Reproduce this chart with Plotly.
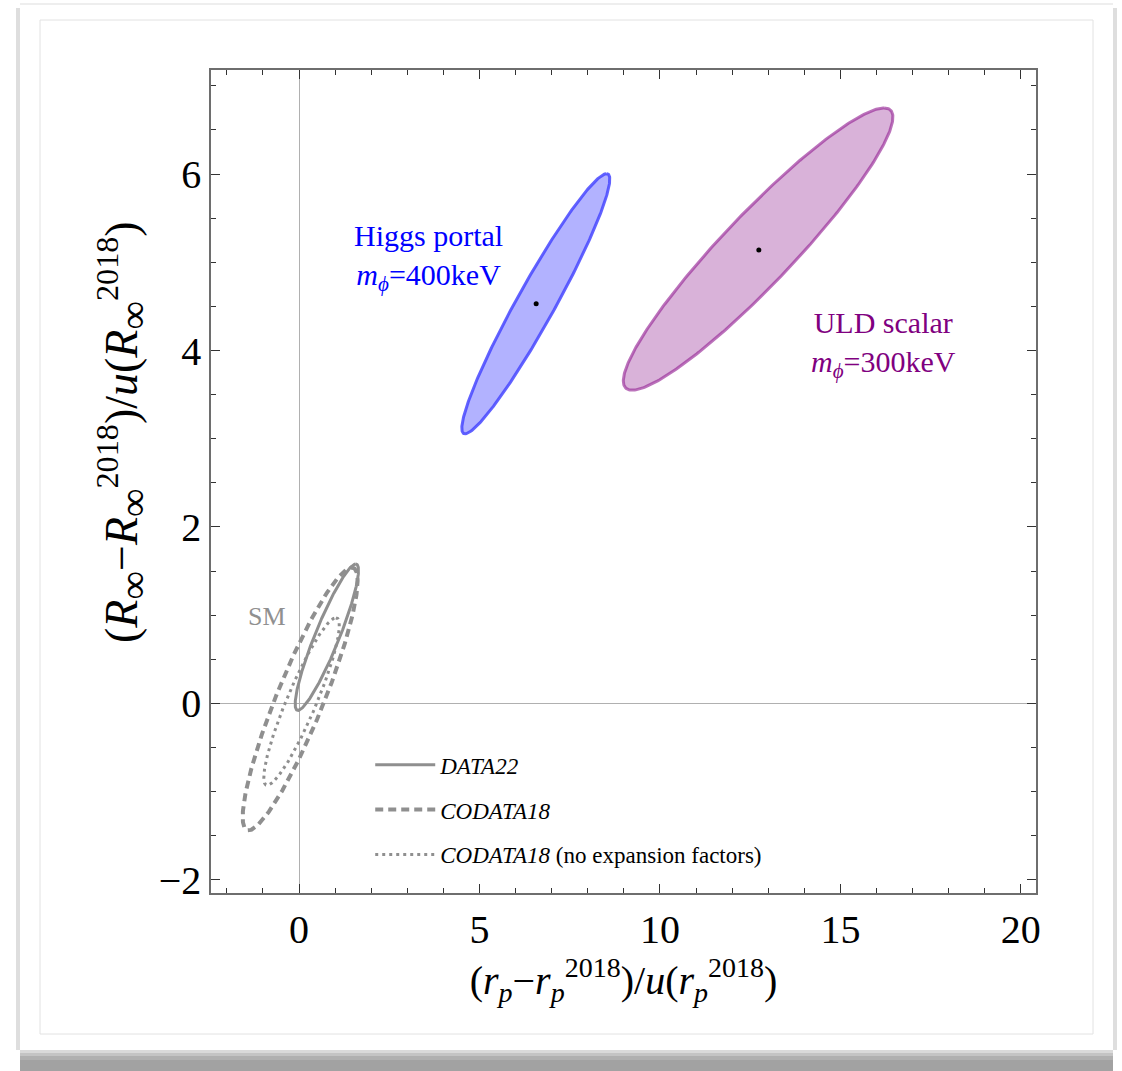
import numpy as np
import plotly.graph_objects as go

# Axis extents and tick positions
x_range = [-2.44, 20.42]
y_range = [-2.15, 7.18]
x_ticks = [0, 5, 10, 15, 20]
y_ticks = [-2, 0, 2, 4, 6]

# Standard-model confidence regions:
# centre, vector from centre to the topmost point, horizontal half-width through the centre
sm_labels = ["<i>DATA22</i>", "<i>CODATA18</i>", "<i>CODATA18</i> (no expansion factors)"]
sm_center_x = [0.77, 0.03, 0.07]
sm_center_y = [0.75, 0.05, 0.02]
sm_tip_dx = [0.80, 1.43, 0.95]
sm_tip_dy = [0.83, 1.49, 0.95]
sm_half_width = [0.36, 0.70, 0.44]
sm_dash = ["solid", "8px,5px", "3px,4px"]
sm_width = [3, 4, 3]

# New-physics fits (Higgs portal, ULD scalar)
np_center_x = [6.56, 12.72]
np_center_y = [4.53, 5.15]
np_tip_dx = [1.96, 3.49]
np_tip_dy = [1.475, 1.60]
np_half_width = [0.60, 1.33]
np_best_x = [6.57, 12.74]
np_best_y = [4.53, 5.14]
np_fill = ["rgba(0,0,255,0.30)", "rgba(128,0,128,0.30)"]
np_edge = ["rgba(70,70,255,0.85)", "rgba(150,40,150,0.65)"]

# Text labels
label_text = ["Higgs portal<br><i>m</i><sub><i>ϕ</i></sub>=400keV",
              "ULD scalar<br><i>m</i><sub><i>ϕ</i></sub>=300keV", "SM"]
label_x = [3.6, 16.2, -0.88]
label_y = [5.06, 4.07, 0.98]
label_color = ["#0000ff", "#800080", "#909090"]
label_size = [30, 30, 26]

GREY = "#8f8f8f"
SERIF = "Liberation Serif"


def outline(cx, cy, tdx, tdy, hw, n=361):
    """Ellipse boundary from a pair of conjugate semi-diameters."""
    t = np.linspace(0, 2 * np.pi, n)
    return cx + tdx * np.cos(t) + hw * np.sin(t), cy + tdy * np.cos(t)


fig = go.Figure()

for i in range(len(np_center_x)):
    ex, ey = outline(np_center_x[i], np_center_y[i], np_tip_dx[i], np_tip_dy[i], np_half_width[i])
    fig.add_trace(go.Scatter(x=ex, y=ey, mode="lines", fill="toself", fillcolor=np_fill[i],
                             line=dict(color=np_edge[i], width=3), showlegend=False,
                             hoverinfo="skip"))

fig.add_trace(go.Scatter(x=np_best_x, y=np_best_y, mode="markers",
                         marker=dict(color="black", size=5), showlegend=False))

for i in range(len(sm_labels)):
    ex, ey = outline(sm_center_x[i], sm_center_y[i], sm_tip_dx[i], sm_tip_dy[i], sm_half_width[i])
    fig.add_trace(go.Scatter(x=ex, y=ey, mode="lines", name=sm_labels[i],
                             legendgroup=f"g{i}",
                             line=dict(color=GREY, width=sm_width[i], dash=sm_dash[i])))

for txt, lx, ly, col, sz in zip(label_text, label_x, label_y, label_color, label_size):
    fig.add_annotation(x=lx, y=ly, text=txt, showarrow=False, xref="x", yref="y",
                       font=dict(family=SERIF, size=sz, color=col), align="center")

# page card decoration (figure pixels -> paper coordinates)
L, R, T, B = 211, 1036, 70, 893
W, H = 1122, 1071


def px(xp):
    return (xp - L) / (R - L)


def py(yp):
    return (B - yp) / (B - T)


shapes = []
# bottom shadow bands
for y0, y1, c in [(1050, 1053, "#dadada"), (1053, 1056, "#c4c4c4"), (1056, 1060, "#b0b0b0"),
                  (1060, 1071, "#a2a2a2")]:
    shapes.append(dict(type="rect", xref="paper", yref="paper", x0=px(20), x1=px(1113),
                       y0=py(y1), y1=py(y0), fillcolor=c, line=dict(width=0), layer="below"))
# side shadows
shapes.append(dict(type="rect", xref="paper", yref="paper", x0=px(16), x1=px(20),
                   y0=py(1050), y1=py(8), fillcolor="#dedede", line=dict(width=0), layer="below"))
shapes.append(dict(type="rect", xref="paper", yref="paper", x0=px(1113), x1=px(1117),
                   y0=py(1050), y1=py(8), fillcolor="#dedede", line=dict(width=0), layer="below"))
# card top edge
shapes.append(dict(type="line", xref="paper", yref="paper", x0=px(20), x1=px(1113),
                   y0=py(4), y1=py(4), line=dict(color="#eeeeee", width=2), layer="below"))
# inner frame
shapes.append(dict(type="rect", xref="paper", yref="paper", x0=px(40), x1=px(1093),
                   y0=py(1034), y1=py(20), line=dict(color="#e2e2e2", width=1), layer="below"))

axis_common = dict(
    showline=True, linecolor="#6e6e6e", linewidth=1.5, mirror="allticks",
    ticks="inside", ticklen=9, tickwidth=1, tickcolor="#333333",
    showgrid=False, zeroline=True, zerolinecolor="#b0b0b0", zerolinewidth=1,
    tickfont=dict(family=SERIF, size=40, color="black"),
)

INF = '<span style="font-size:40px">∞</span>'
x_title = ("(<i>r</i><sub><i>p</i></sub>−<i>r</i><sub><i>p</i></sub><sup>2018</sup>)/"
           "<i>u</i>(<i>r</i><sub><i>p</i></sub><sup>2018</sup>)")
y_title = (f"(<i>R</i><sub>{INF}</sub>−<i>R</i><sub>{INF}</sub><sup>2018</sup>)/"
           f"<i>u</i>(<i>R</i><sub>{INF}</sub><sup>2018</sup>)")

# rotated vertical-axis title
fig.add_annotation(x=px(122), y=py(432), xref="paper", yref="paper", text=y_title,
                   textangle=-90, showarrow=False, xanchor="center", yanchor="middle",
                   font=dict(family=SERIF, size=46, color="black"))

fig.update_layout(
    width=W, height=H,
    margin=dict(l=L, r=W - R, t=T, b=H - B),
    paper_bgcolor="white", plot_bgcolor="white",
    xaxis=dict(range=x_range, tickvals=x_ticks,
               minor=dict(ticks="inside", dtick=1, ticklen=5, tickcolor="#333333", showgrid=False),
               title=dict(text=x_title, font=dict(family=SERIF, size=40, color="black"), standoff=14),
               **axis_common),
    yaxis=dict(range=y_range, tickvals=y_ticks,
               minor=dict(ticks="inside", dtick=0.5, ticklen=5, tickcolor="#333333", showgrid=False),
               **axis_common),
    legend=dict(x=0.193, y=0.182, xanchor="left", yanchor="top", bgcolor="rgba(0,0,0,0)",
                font=dict(family=SERIF, size=23, color="black"), tracegroupgap=12, itemwidth=60),
    shapes=shapes,
)

fig.write_html("out.html")
